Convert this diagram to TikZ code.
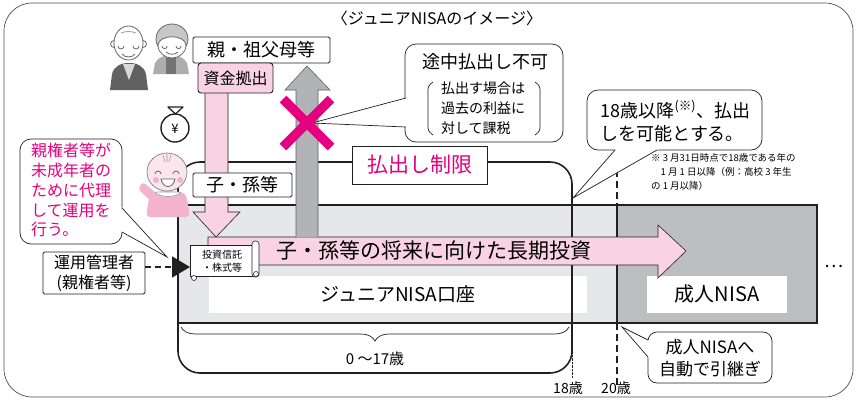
\documentclass[tikz,border=0pt]{standalone}
\usepackage{fontspec}
\setmainfont{Noto Sans CJK JP}
\usetikzlibrary{calc,arrows.meta,decorations.pathreplacing}
\definecolor{kpink}{HTML}{F9D3E3}
\definecolor{kmag}{HTML}{E4007F}
\definecolor{kgray}{HTML}{E6E7E8}
\definecolor{kdark}{HTML}{BCBEC0}
\definecolor{kshaft}{HTML}{B1B3B6}
\definecolor{kline}{HTML}{231F20}
\definecolor{kbaby}{HTML}{F4B3CD}
\definecolor{kskin}{HTML}{FCE6EE}
\newcommand\fsz[2]{\fontsize{#1}{#2}\selectfont}
% speech tail: base point, tip, base point
\newcommand\saytail[3]{%
  \fill[white] ($#1!-.08!#2$) -- #2 -- ($#3!-.08!#2$) -- cycle;
  \draw[kline, line width=.7pt] #1 -- #2 -- #3;}
\tikzset{
  lbox/.style={draw=kline, fill=white, line width=.9pt, rounded corners=1.5pt, inner sep=0pt},
  talk/.style={draw=kline, fill=white, line width=.7pt, rounded corners=11pt},
  heavy/.style={draw=kline, line width=1.6pt},
  face/.style={draw=black!60, line width=.8pt},
}

\begin{document}
\begin{tikzpicture}[x=1pt,y=-1pt]
    \useasboundingbox (0,0) rectangle (857,400);
    \draw[kline!80, line width=.7pt, rounded corners=28pt] (4,3) rectangle (853,397);
    \node[font=\fsz{16}{18}] (title) at (437,18) {〈ジュニアNISAのイメージ〉};

    % the two accounts
    \fill[kgray] (178,205) rectangle (617,323);
    \fill[kdark] (617,205) rectangle (817,323);
    \node[fill=white, minimum width=378pt, minimum height=37pt, font=\fsz{19}{22}] (junior) at (398,294) {ジュニアNISA口座};
    \node[fill=white, minimum width=140pt, minimum height=37pt, font=\fsz{20}{22}] (adult) at (717,294) {成人NISA};
    \draw[heavy] (178,205) rectangle (817,323) (617,205) -- (617,323);
    \draw[heavy, dash pattern=on 7pt off 4pt] (617,170) -- (617,205) (617,323) -- (617,385);
    \node[font=\fsz{18}{20}] (more) at (834,266) {…};

    % restriction period
    \draw[heavy, rounded corners=22pt] (178,162) rectangle (572,373);
    \draw[kline, line width=.4pt, densely dotted] (572,352) -- (572,378);
    \draw[kline, line width=.7pt, decorate, decoration={brace, amplitude=14pt, mirror}] (181,327) -- (569,327);
    \node[font=\fsz{15}{17}] (age) at (375,359) {0 〜17歳};
    \node[font=\fsz{14}{16}] (age18) at (568,388) {18歳};
    \node[font=\fsz{14}{16}] (age20) at (616,388) {20歳};

    % long-term investment
    \draw[kline, line width=.6pt, fill=kpink] (208,237) -- (658,237) -- (658,225) -- (686,251) -- (658,278) -- (658,265) -- (208,265) -- cycle;
    \node[font=\fsz{21}{24}] (invest) at (434,251) {子・孫等の将来に向けた長期投資};

    % withdrawal and contribution
    \draw[kline!70, line width=.6pt, fill=kshaft] (296,237) -- (296,90) -- (285,90) -- (307,66) -- (330,90) -- (318,90) -- (318,237);
    \draw[kline, line width=.6pt, fill=kpink] (205,93) -- (205,212) -- (193,212) -- (216,237) -- (240,212) -- (228,212) -- (228,93);
    \node[lbox, minimum width=137pt, minimum height=26pt, font=\fsz{18}{20}] (oya) at (261.5,50) {親・祖父母等};
    \node[lbox, fill=kpink, rounded corners=3pt, minimum width=75pt, minimum height=30pt, font=\fsz{16}{18}] (kyoshutsu) at (235.5,78) {資金拠出};
    \node[lbox, minimum width=99pt, minimum height=24pt, font=\fsz{18}{20}] (ko) at (242.5,185) {子・孫等};
    \node[lbox, rounded corners=0pt, minimum width=135pt, minimum height=38pt, text=kmag, font=\fsz{21}{24}] (seigen) at (420,165) {払出し制限};

    % callouts
    \node[talk, minimum width=158pt, minimum height=98pt] (tochu) at (484,93) {};
    \saytail{(406,98)}{(312,123)}{(406,127)}
    \node[font=\fsz{18}{20}] (tochuT) at (485,62) {途中払出し不可};
    \node[font=\fsz{14}{20}, align=left] (kazei) at (483,108) {払出す場合は\\過去の利益に\\対して課税};
    \draw[kline, line width=.7pt, rounded corners=3pt] (433,82) -- (428,86) -- (428,131) -- (433,135)
        (535,82) -- (540,86) -- (540,131) -- (535,135);
    \draw[kmag, line width=9.5pt] (283,99) -- (331,147) (331,99) -- (283,147);

    \node[talk, minimum width=175pt, minimum height=60pt] (kanou) at (674.5,120) {};
    \saytail{(615,150)}{(573,198)}{(657,150)}
    \node[font=\fsz{18}{23}, align=left, anchor=west] (kanouT) at (597,121) {18歳以降\textsuperscript{(※)}、払出\\しを可能とする。};
    \node[font=\fsz{9.5}{14}, align=left, anchor=north west, inner sep=0pt] (chu) at (651,153)
        {※ 3 月31日時点で18歳である年の\\\hspace{1em}1 月 1 日以降（例：高校 3 年生\\の 1 月以降）};

    \node[talk, rounded corners=9pt, minimum width=124pt, minimum height=51pt] (hikitsugi) at (710,357.5) {};
    \saytail{(648,340)}{(622,327)}{(648,357)}
    \node[font=\fsz{17}{22}, align=center] (hikitsugiT) at (710,358) {成人NISAへ\\自動で引継ぎ};

    \node[talk, minimum width=102pt, minimum height=105pt] (dairi) at (71,191.5) {};
    \saytail{(122,208)}{(167,257)}{(122,232)}
    \node[font=\fsz{16}{19.8}, text=kmag, align=left, anchor=north west, inner sep=0pt] (dairiT) at (31,143) {親権者等が\\未成年者の\\ために代理\\して運用を\\行う。};

    % manager and fund scroll
    \node[lbox, minimum width=102pt, minimum height=42pt, font=\fsz{16}{20}, align=center] (kanri) at (94,273) {運用管理者\\(親権者等)};
    \node[draw=kline, fill=white, line width=.6pt, minimum width=63pt, minimum height=31pt, inner sep=0pt, align=center, font=\fsz{10}{13}] (fund) at (222,261) {投資信託\\・株式等};
    \draw[kline, line width=.6pt, fill=white, rounded corners=3pt] (252,241) rectangle (259,277);
    \draw[kline, line width=.6pt, fill=white] (256,274) circle (2.5pt) (194,278) circle (2.5pt);
    \coordinate (fundin) at (190,267);
    \draw[kline, line width=1.6pt, dash pattern=on 6pt off 4pt, -{Triangle[length=18pt, width=21pt]}] (kanri.east |- fundin) -- (fundin);

    % money bag
    \draw[kline, line width=1.4pt] (175,128) circle (14pt);
    \draw[kline, line width=1.2pt, fill=white, line join=round] (168,107) -- (183,107) -- (175.5,114) -- cycle;
    \node[font=\fsz{13}{14}] (yen) at (175,129) {¥};

    % grandfather
    \fill[black!62] (110,90) -- (112,74) .. controls (114,66) and (121,63) .. (129,63) .. controls (137,63) and (144,66) .. (146,74) -- (148,90) -- cycle;
    \fill[black!15] (123,64) -- (129,80) -- (135,64) -- cycle;
    \draw[face, fill=white] (114,44) circle (3.5pt) (143,44) circle (3.5pt);
    \draw[face, fill=white] (128.5,43) ellipse (14.5pt and 17pt);
    \draw[face, black!40] (121,33) .. controls (126,31) and (131,31) .. (136,33);
    \draw[face] (118,46) arc (180:360:3pt) (133,46) arc (180:360:3pt)
        (122,54) .. controls (125,58) and (132,58) .. (135,54);
    % grandmother
    \fill[black!32] (153,74) -- (155,63) .. controls (158,57) and (165,55) .. (171,55) .. controls (177,55) and (184,57) .. (187,63) -- (189,74) -- cycle;
    \fill[black!55] (166,58) rectangle (176,74);
    \draw[face, fill=black!22] (172,39) ellipse (16pt and 15pt);
    \draw[face, fill=white] (158,45) .. controls (159,34) and (185,34) .. (186,45) .. controls (186,53) and (179,58) .. (172,58) .. controls (165,58) and (158,53) .. cycle;
    \draw[face] (162,46) arc (180:360:2.6pt) (176,46) arc (180:360:2.6pt)
        (166,52) .. controls (169,55) and (175,55) .. (178,52);

    % child
    \fill[kbaby, rounded corners=4pt] (146,217) -- (149,198) .. controls (153,190) and (183,190) .. (187,198) -- (190,217) -- cycle;
    \fill[kbaby, rounded corners=3pt] (151,201) -- (138,189) -- (143,182) -- (156,193) -- cycle;
    \fill[white, draw=black!40, line width=.5pt] (155,192) .. controls (160,198) and (176,198) .. (181,192) -- cycle;
    \draw[black!50, line width=.7pt, fill=kskin] (167,172) ellipse (20pt and 19pt);
    \draw[black!40, line width=.6pt] (163,155) -- (165,162) (167,154) -- (167,162) (171,155) -- (169,162);
    \fill[kbaby] (156,180) circle (3pt) (180,180) circle (3pt);
    \draw[face] (155,174) arc (180:0:3pt) (173,174) arc (180:0:3pt);
    \draw[face, fill=white] (161,179) .. controls (163,189) and (173,189) .. (175,179) -- cycle;
\end{tikzpicture}
\end{document}
